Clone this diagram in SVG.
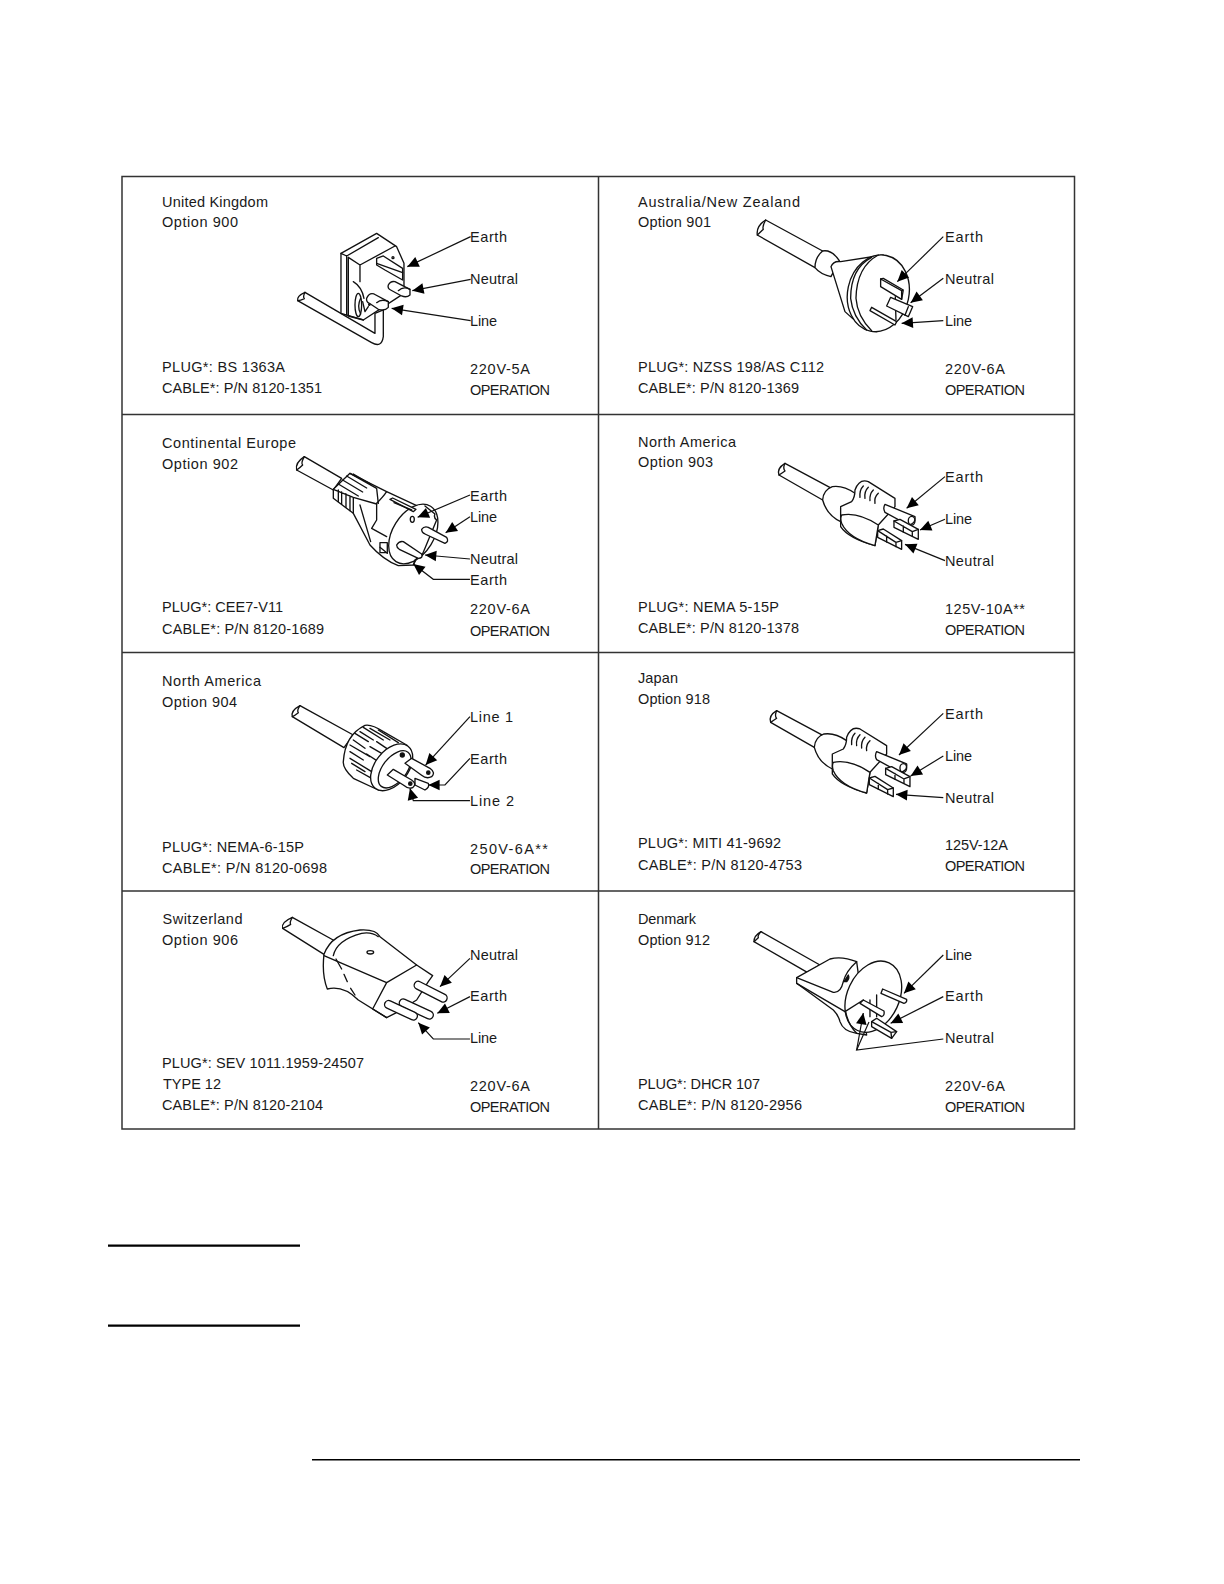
<svg xmlns="http://www.w3.org/2000/svg" xmlns:xlink="http://www.w3.org/1999/xlink" width="1224" height="1584" viewBox="0 0 1224 1584">
<style>
text{font-family:"Liberation Sans",Arial,sans-serif;font-size:14.5px;fill:#1a1a1a}
.d path,.d ellipse,.d line,.d polygon,.d rect,.d circle{stroke:#111;stroke-width:4;fill:none;stroke-linejoin:round;stroke-linecap:round}
.d .w{fill:#fff}
.d .k{fill:#111}
.c path{stroke:#111;stroke-width:3.6;fill:none;marker-end:url(#a)}
.c path.n{marker-end:none}
.f{stroke:#333;stroke-width:1.5;fill:none}
.r{stroke:#000;stroke-width:2.2}
</style>
<defs>
<marker id="a" markerUnits="userSpaceOnUse" markerWidth="40" markerHeight="36" refX="36" refY="18" orient="auto"><path d="M2,2 L36,18 L2,34Z" fill="#000"/></marker>
<g id="usplug" class="d">
<path class="w" d="M555,160 L695,235 L668,270 L537,195 Q530,175 555,160Z"/>
<path d="M555,160 Q548,175 555,183 Q545,190 537,195"/>
<path class="w" d="M668,270 Q670,240 697,230 Q730,225 765,250 L765,320 L722,335 Q680,315 668,270Z"/>
<path class="w" d="M722,290 L755,275 Q765,262 765,240 Q778,205 805,215 L885,265 L885,290 L835,345 L825,407 Q745,385 722,350Z"/>
<path class="w" d="M725,315 Q775,305 835,345 L825,407 Q745,385 725,340 Q720,325 725,315Z"/>
<path d="M780,262 Q778,240 790,228 M795,265 Q792,245 805,232 M810,272 Q808,252 820,240 M825,280 Q822,262 835,250"/>
<path class="w" d="M855,283 L945,320 Q948,342 925,345 L855,307 Q848,295 855,283Z"/>
<ellipse cx="935" cy="332" rx="10" ry="13"/>
<polygon class="w" points="882,333 900,328 955,358 955,388 882,352"/>
<path d="M882,333 L937,365 L937,378 M955,358 L937,365 M910,348 L910,366"/>
<polygon class="w" points="833,362 850,357 905,392 905,418 833,382"/>
<path d="M833,362 L888,397 L888,410 M905,392 L888,397 M860,378 L860,396"/>
</g>
</defs>
<rect width="1224" height="1584" fill="#fff"/>
<g id="frame">
<rect class="f" x="122" y="176.500" width="952.500" height="952.500"/>
<path class="f" d="M598.500,176.500V1129M122,414.500H1074.500M122,652.500H1074.500M122,891H1074.500"/>
</g>
<g id="rules" class="r">
<path class="r" d="M108,1245.700H300M108,1325.700H300"/>
<path d="M312,1459.700H1080" stroke="#000" stroke-width="1.500"/>
</g>

<g id="plug-900" class="d" transform="translate(120,170) scale(.3333)">
<path class="w" d="M555,367 L765,490 L765,430 L790,420 L790,500 Q785,535 755,518 L533,392 Q530,378 555,367Z"/>
<path d="M555,367 Q548,380 553,386 Q542,392 533,392"/>
<path class="w" d="M663,250 L770,190 L830,230 L852,280 L852,370 L730,450 L663,430Z"/>
<path d="M680,258 L775,203 M680,258 L680,435 M663,250 L680,258 M685,262 L720,285 L825,228 M720,285 L720,335 M685,262 L685,438 L730,450"/>
<path d="M700,335 Q725,350 732,385"/>
<ellipse cx="715" cy="405" rx="10" ry="35"/><path d="M722,385 Q710,410 722,432 M728,395 L735,425 L745,410"/>
<polygon class="w" points="770,265 790,258 848,295 848,330 795,300 770,285"/>
<path d="M770,280 L848,308"/>
<circle cx="819" cy="263" r="3"/>
<path class="w" d="M805,345 Q812,332 825,335 L870,358 L870,375 Q860,384 845,378 L812,360 Q802,355 805,345Z"/>
<path d="M835,362 Q850,348 870,358"/>
<path class="w" d="M740,385 Q748,367 762,372 L805,395 L805,412 Q795,424 775,418 L748,400 Q738,395 740,385Z"/>
<path d="M770,398 Q785,385 805,395"/>
<circle class="k" cx="748" cy="404" r="2"/>
</g>

<g id="plug-901" class="d" transform="translate(600,170) scale(.3333)">
<path class="w" d="M497,150 L668,243 L645,293 L472,195 Q468,168 497,150Z"/>
<path d="M497,150 Q486,170 490,178 Q480,188 472,195"/>
<path class="w" d="M668,243 Q695,238 718,272 L693,320 Q660,312 645,293 Q645,262 668,243Z"/>
<path class="w" d="M693,290 Q700,272 722,275 L850,255 L830,485 Q780,470 735,425Z"/>
<ellipse class="w" cx="835" cy="370" rx="92" ry="116" transform="rotate(12 835 370)"/>
<path d="M815,262 Q752,295 752,385 Q758,440 800,480 M835,255 Q770,290 768,385 Q772,440 815,482"/>
<polygon class="w" points="842,327 905,362 905,388 842,350"/>
<path d="M842,327 L850,325 L910,360 L905,388 M905,362 L910,360"/>
<path d="M886,380 L888,450"/>
<polygon class="w" points="872,382 938,410 925,440 860,408"/>
<path d="M925,410 L915,436"/>
<polygon class="w" points="815,412 890,455 885,465 810,422"/>
</g>

<g id="plug-902" class="d" transform="translate(120,410) scale(.3333)">
<path class="w" d="M553,140 L665,205 L640,240 L530,180 Q525,158 553,140Z"/>
<path d="M553,140 Q542,160 548,165 Q538,175 530,180"/>
<path class="w" d="M640,238 L690,190 L800,245 L940,310 L950,330 L880,465 L835,467 Q790,450 750,405 L700,310 L640,265Z"/>
<path d="M640,238 L700,262 L770,282 M690,190 L770,235 L775,280 M655,222 L715,258 M668,210 L728,246 M680,198 L740,234 M700,192 L752,222 M655,240 L655,275 M665,246 L665,283 M678,252 L678,292 M690,258 L690,302 M700,262 L700,310"/>
<path d="M800,245 Q790,260 770,280 L770,330 L755,355 L800,380 M720,285 L752,395"/>
<ellipse class="w" cx="880" cy="372" rx="62" ry="98" transform="rotate(32 880 372)"/>
<path class="w" d="M810,268 L818,264 L888,298 L880,305Z"/><path d="M822,278 L875,300"/>
<ellipse cx="877" cy="328" rx="6" ry="9"/>
<path d="M915,288 L945,312 Q940,322 950,330 L915,415 L905,438 Q895,440 885,450 L880,465"/>
<rect class="w" x="780" y="398" width="22" height="30"/><path d="M780,412 L802,430"/>
<path class="w" d="M905,358 Q912,348 925,352 L980,382 Q988,395 975,400 L915,372 Q905,368 905,358Z"/>
<path class="w" d="M830,405 Q838,392 850,395 L905,432 Q910,445 895,445 L838,418 Q830,412 830,405Z"/>
</g>

<g id="plug-903" class="d" transform="translate(600,410) scale(.3333)"><use xlink:href="#usplug" href="#usplug"/></g>

<g id="plug-904" class="d" transform="translate(120,650) scale(.3333)">
<path class="w" d="M540,167 L700,255 L672,293 L517,200 Q512,182 540,167Z"/>
<path d="M540,167 Q530,182 535,188 Q525,196 517,200"/>
<path class="w" d="M670,335 Q675,255 735,226 Q755,222 790,245 L860,285 L870,300 L775,420 L700,385 Q668,355 670,335Z"/>
<path d="M705,250 L745,275 M720,245 L760,270 M730,232 L790,270 M750,235 L810,270 M775,240 L835,278 M700,270 L735,295 M690,285 L750,320 M690,305 L730,330 M690,325 L755,365 M695,340 L735,365 M710,360 L755,385 M750,290 L785,310 M740,312 L775,335 M770,275 L800,295"/>
<ellipse class="w" cx="815" cy="352" rx="50" ry="80" transform="rotate(38 815 352)"/>
<ellipse cx="824" cy="358" rx="36" ry="65" transform="rotate(38 824 358)"/>
<circle class="k" cx="847" cy="315" r="6"/>
<path class="w" d="M885,385 L925,400 Q930,412 915,420 L885,405Z"/>
<path class="w" d="M855,340 L875,325 L930,355 Q948,368 935,380 Q920,388 905,376Z"/>
<circle class="k" cx="925" cy="368" r="5"/>
<path class="w" d="M802,375 L820,358 L875,390 Q892,402 878,413 Q865,418 850,405Z"/>
<circle class="k" cx="871" cy="401" r="5"/>
</g>

<g id="plug-918" class="d" transform="translate(600,650) scale(.3333)"><use xlink:href="#usplug" href="#usplug" transform="translate(-25,22)"/></g>

<g id="plug-906" class="d" transform="translate(120,885) scale(.3333)">
<path class="w" d="M517,97 L645,168 L612,208 L488,130 Q482,112 517,97Z"/>
<path d="M517,97 Q508,112 512,118 Q500,126 488,130"/>
<path class="w" d="M612,208 Q635,145 720,135 Q768,132 780,155 L890,240 L938,272 L925,290 L890,345 L825,385 L800,398 L715,345 Q670,300 622,312 Q605,270 612,208Z"/>
<path d="M640,212 Q650,165 725,145 Q755,140 775,155 M612,212 L800,293 L890,240 M800,293 L758,372 L800,398"/>
<path d="M648,222 L665,252 M672,268 L682,290 M692,310 L705,330"/>
<ellipse cx="751" cy="202" rx="10" ry="5"/>
<rect class="w" x="878" y="308" width="108" height="24" rx="12" transform="rotate(27 932 320)"/>
<rect class="w" x="834" y="360" width="110" height="24" rx="12" transform="rotate(25 889 372)"/>
<rect class="w" x="790" y="364" width="106" height="24" rx="12" transform="rotate(25 843 376)"/>
</g>

<g id="plug-912" class="d" transform="translate(600,885) scale(.3333)">
<path class="w" d="M483,140 L660,240 L622,262 L462,170 Q462,152 483,140Z"/>
<path d="M483,140 Q472,152 475,158 L462,170"/>
<path class="w" d="M590,278 L690,222 Q725,212 770,230 L800,450 L770,445 Q730,440 720,410 Q715,390 700,375 L590,295Z"/>
<path d="M590,278 L700,322 Q722,325 730,290 Q738,258 770,230 M590,295 L735,380"/>
<ellipse class="w" cx="820" cy="335" rx="78" ry="112" transform="rotate(25 820 335)"/>
<path d="M737,380 Q745,420 770,445 M735,380 L790,345"/>
<path class="k" d="M732,290 L745,270 Q750,280 740,290Z"/>
<path d="M810,345 L810,395 M830,330 L830,395"/>
<path class="w" d="M848,312 L920,343 Q922,352 912,355 L843,325Z"/>
<path class="w" d="M780,355 L790,345 L852,378 Q855,392 845,395Z"/>
<path class="w" d="M815,410 L830,400 L890,440 L875,460 L815,425Z"/>
<path d="M815,410 L873,442 L875,460 M873,442 L890,440"/>
</g>

<g id="connectors" class="c">
<g transform="translate(120,170) scale(.3333)"><path d="M1052,200L862,290"/><path d="M1052,328L877,362"/><path d="M1052,452L815,415"/></g>
<g transform="translate(600,170) scale(.3333)"><path d="M1030,200L892,335"/><path d="M1030,325L932,398"/><path d="M1030,452L905,460"/></g>
<g transform="translate(120,410) scale(.3333)"><path d="M1050,255L893,322"/><path d="M1050,320L977,368"/><path d="M1050,447L915,435"/><path d="M1050,508L940,508L880,462"/></g>
<g transform="translate(600,410) scale(.3333)"><path d="M1035,200L920,295"/><path d="M1035,328L960,360"/><path d="M1035,452L915,403"/></g>
<g transform="translate(120,650) scale(.3333)"><path d="M1050,200L917,345"/><path d="M1050,325L975,405L925,405"/><path d="M1050,452L880,452L870,415"/></g>
<g transform="translate(600,650) scale(.3333)"><path d="M1030,190L897,315"/><path d="M1030,318L932,378"/><path d="M1030,443L888,433"/></g>
<g transform="translate(120,885) scale(.3333)"><path d="M1050,220L960,305"/><path d="M1050,335L952,385"/><path d="M1050,462L940,462L895,413"/></g>
<g transform="translate(600,885) scale(.3333)"><path d="M1030,210L912,325"/><path d="M1030,335L872,415"/><path class="n" d="M1030,462L770,495L807,411"/><path d="M770,495L790,384"/></g>
</g>

<g id="cell-900">
<text x="162" y="206.700" textLength="106">United Kingdom</text><text x="162" y="227.300" textLength="76">Option 900</text>
<text x="470" y="242" textLength="37">Earth</text><text x="470" y="284" textLength="48">Neutral</text><text x="470" y="326" textLength="27">Line</text>
<text x="162" y="371.700" textLength="123">PLUG*: BS 1363A</text><text x="162" y="393" textLength="160">CABLE*: P/N 8120-1351</text>
<text x="470" y="373.700" textLength="60">220V-5A</text><text x="470" y="395" textLength="80">OPERATION</text>
</g>
<g id="cell-901">
<text x="638" y="206.700" textLength="162">Australia/New Zealand</text><text x="638" y="227.300" textLength="73">Option 901</text>
<text x="945" y="242" textLength="38">Earth</text><text x="945" y="284" textLength="49">Neutral</text><text x="945" y="326" textLength="27">Line</text>
<text x="638" y="371.700" textLength="186">PLUG*: NZSS 198/AS C112</text><text x="638" y="393" textLength="161">CABLE*: P/N 8120-1369</text>
<text x="945" y="373.700" textLength="60">220V-6A</text><text x="945" y="395" textLength="80">OPERATION</text>
</g>
<g id="cell-902">
<text x="162" y="447.500" textLength="134">Continental Europe</text><text x="162" y="468.500" textLength="76">Option 902</text>
<text x="470" y="500.700" textLength="37">Earth</text><text x="470" y="521.700" textLength="27">Line</text><text x="470" y="563.500" textLength="48">Neutral</text><text x="470" y="584.700" textLength="37">Earth</text>
<text x="162" y="611.700" textLength="121">PLUG*: CEE7-V11</text><text x="162" y="634" textLength="162">CABLE*: P/N 8120-1689</text>
<text x="470" y="614" textLength="60">220V-6A</text><text x="470" y="635.700" textLength="80">OPERATION</text>
</g>
<g id="cell-903">
<text x="638" y="446.700" textLength="98">North America</text><text x="638" y="467.300" textLength="75">Option 903</text>
<text x="945" y="482" textLength="38">Earth</text><text x="945" y="524" textLength="27">Line</text><text x="945" y="566.300" textLength="49">Neutral</text>
<text x="638" y="611.700" textLength="141">PLUG*: NEMA 5-15P</text><text x="638" y="633.300" textLength="161">CABLE*: P/N 8120-1378</text>
<text x="945" y="613.700" textLength="80">125V-10A**</text><text x="945" y="635" textLength="80">OPERATION</text>
</g>
<g id="cell-904">
<text x="162" y="686" textLength="99">North America</text><text x="162" y="707.300" textLength="75">Option 904</text>
<text x="470" y="722" textLength="43">Line 1</text><text x="470" y="764" textLength="37">Earth</text><text x="470" y="805.700" textLength="44">Line 2</text>
<text x="162" y="851.700" textLength="142">PLUG*: NEMA-6-15P</text><text x="162" y="872.700" textLength="165">CABLE*: P/N 8120-0698</text>
<text x="470" y="854" textLength="78">250V-6A**</text><text x="470" y="874" textLength="80">OPERATION</text>
</g>
<g id="cell-918">
<text x="638" y="682.700" textLength="40">Japan</text><text x="638" y="704" textLength="72">Option 918</text>
<text x="945" y="718.700" textLength="38">Earth</text><text x="945" y="760.700" textLength="27">Line</text><text x="945" y="802.700" textLength="49">Neutral</text>
<text x="638" y="848.300" textLength="143">PLUG*: MITI 41-9692</text><text x="638" y="870" textLength="164">CABLE*: P/N 8120-4753</text>
<text x="945" y="850.300" textLength="63">125V-12A</text><text x="945" y="871" textLength="80">OPERATION</text>
</g>
<g id="cell-906">
<text x="162.500" y="924" textLength="80">Switzerland</text><text x="162" y="944.700" textLength="76">Option 906</text>
<text x="470" y="959.700" textLength="48">Neutral</text><text x="470" y="1001" textLength="37">Earth</text><text x="470" y="1043.300" textLength="27">Line</text>
<text x="162" y="1068" textLength="202">PLUG*: SEV 1011.1959-24507</text><text x="163" y="1089.300" textLength="58">TYPE 12</text><text x="162" y="1110.300" textLength="161">CABLE*: P/N 8120-2104</text>
<text x="470" y="1091" textLength="60">220V-6A</text><text x="470" y="1111.700" textLength="80">OPERATION</text>
</g>
<g id="cell-912">
<text x="638" y="924" textLength="58">Denmark</text><text x="638" y="944.700" textLength="72">Option 912</text>
<text x="945" y="959.700" textLength="27">Line</text><text x="945" y="1001" textLength="38">Earth</text><text x="945" y="1043.300" textLength="49">Neutral</text>
<text x="638" y="1089.300" textLength="122">PLUG*: DHCR 107</text><text x="638" y="1110.300" textLength="164">CABLE*: P/N 8120-2956</text>
<text x="945" y="1091" textLength="60">220V-6A</text><text x="945" y="1111.700" textLength="80">OPERATION</text>
</g>
</svg>
